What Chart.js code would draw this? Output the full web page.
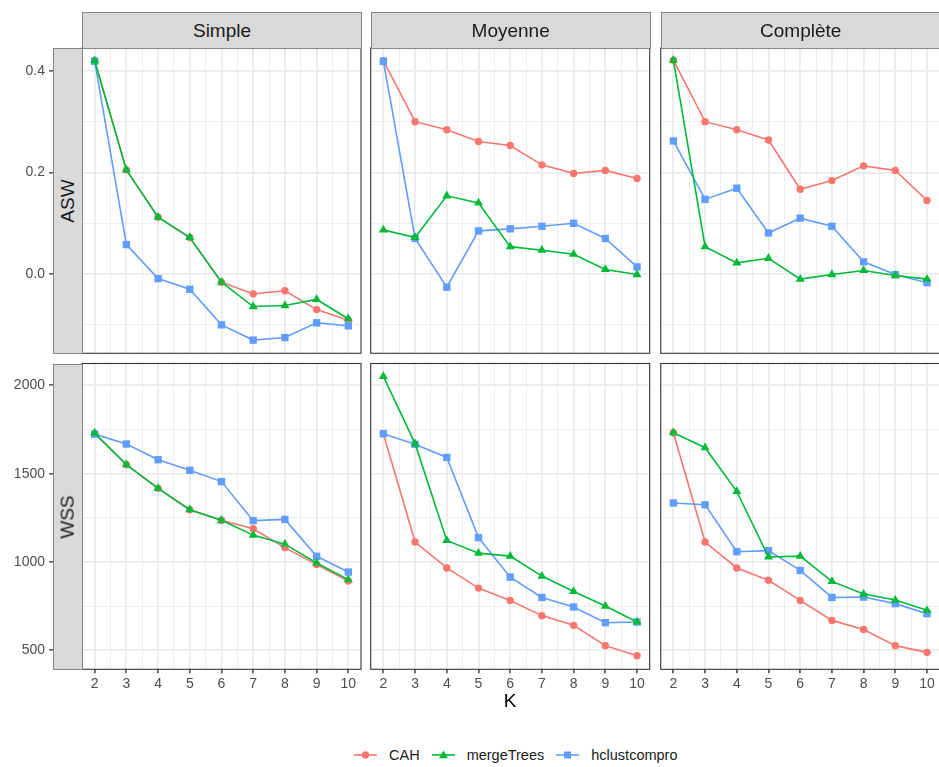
<!DOCTYPE html>
<html>
<head>
<meta charset="utf-8">
<script src="https://cdn.jsdelivr.net/npm/chart.js@4"></script>
<style>
  body { margin: 0; background: #fff; font-family: "Liberation Sans", Arial, sans-serif; }
  #fig { position: relative; width: 939px; height: 767px; overflow: hidden; background: #fff; }
  #fig canvas { position: absolute; }
  .strip { position: absolute; box-sizing: border-box; background: #d9d9d9; border: 1px solid #858585;
           color: #1a1a1a; font-size: 19px; display: flex; align-items: center; justify-content: center; z-index: 2; }
  .strip span { white-space: nowrap; }
  .strip.row span { transform: rotate(-90deg); }
  #legend { position: absolute; left: 354px; top: 746px; height: 18px; display: flex; align-items: center;
            font-size: 14.5px; color: #1a1a1a; }
  #legend .item { display: flex; align-items: center; margin-right: 12px; }
  #legend svg { margin-right: 12px; }
</style>
</head>
<body>
<div id="fig"></div>
<script>
// categories
const kValues = [2, 3, 4, 5, 6, 7, 8, 9, 10];
const methods = ["Simple", "Moyenne", "Complète"];
const measures = ["ASW", "WSS"];
const seriesNames = ["CAH", "mergeTrees", "hclustcompro"];
const seriesColors = ["#F8766D", "#00BA38", "#619CFF"];

// ASW (silhouette) per method
const aswSimpleCAH = [0.42, 0.205, 0.112, 0.072, -0.016, -0.039, -0.033, -0.070, -0.091];
const aswSimpleMerge = [0.42, 0.205, 0.112, 0.072, -0.016, -0.064, -0.062, -0.050, -0.088];
const aswSimpleHclust = [0.419, 0.058, -0.009, -0.030, -0.100, -0.130, -0.125, -0.096, -0.102];

const aswMoyenneCAH = [0.42, 0.300, 0.284, 0.261, 0.253, 0.215, 0.198, 0.204, 0.188];
const aswMoyenneMerge = [0.087, 0.072, 0.154, 0.140, 0.054, 0.047, 0.039, 0.009, -0.001];
const aswMoyenneHclust = [0.419, 0.070, -0.026, 0.085, 0.089, 0.094, 0.100, 0.070, 0.014];

const aswCompleteCAH = [0.421, 0.300, 0.284, 0.264, 0.167, 0.184, 0.213, 0.204, 0.145];
const aswCompleteMerge = [0.421, 0.054, 0.022, 0.031, -0.010, -0.001, 0.007, -0.003, -0.010];
const aswCompleteHclust = [0.262, 0.147, 0.169, 0.081, 0.110, 0.094, 0.024, -0.001, -0.017];

// WSS per method
const wssSimpleCAH = [1726, 1551, 1417, 1296, 1236, 1188, 1081, 985, 892];
const wssSimpleMerge = [1730, 1551, 1417, 1296, 1236, 1152, 1101, 994, 900];
const wssSimpleHclust = [1724, 1668, 1579, 1519, 1455, 1234, 1241, 1032, 943];

const wssMoyenneCAH = [1726, 1113, 966, 852, 782, 696, 641, 526, 469];
const wssMoyenneMerge = [2051, 1670, 1122, 1050, 1033, 920, 833, 750, 660];
const wssMoyenneHclust = [1726, 1666, 1592, 1138, 914, 799, 745, 656, 660];

const wssCompleteCAH = [1732, 1113, 966, 896, 782, 669, 617, 526, 488];
const wssCompleteMerge = [1732, 1647, 1400, 1028, 1033, 890, 818, 784, 726];
const wssCompleteHclust = [1334, 1324, 1058, 1064, 952, 799, 801, 764, 707];

// ticks
const xTicks = [2, 2.5, 3, 3.5, 4, 4.5, 5, 5.5, 6, 6.5, 7, 7.5, 8, 8.5, 9, 9.5, 10];
const aswTicks = [-0.1, 0, 0.1, 0.2, 0.3, 0.4];
const aswLabels = ["", "0.0", "", "0.2", "", "0.4"];
const wssTicks = [500, 750, 1000, 1250, 1500, 1750, 2000];
const wssLabels = ["500", "", "1000", "", "1500", "", "2000"];

const grid = [
  [[aswSimpleCAH, aswSimpleMerge, aswSimpleHclust],
   [aswMoyenneCAH, aswMoyenneMerge, aswMoyenneHclust],
   [aswCompleteCAH, aswCompleteMerge, aswCompleteHclust]],
  [[wssSimpleCAH, wssSimpleMerge, wssSimpleHclust],
   [wssMoyenneCAH, wssMoyenneMerge, wssMoyenneHclust],
   [wssCompleteCAH, wssCompleteMerge, wssCompleteHclust]]
];
const rowTicks = [aswTicks, wssTicks];
const rowLabels = [aswLabels, wssLabels];
const rowLimits = [[-0.156, 0.445], [392, 2124]];

// layout (px)
const panelLefts = [82, 370.7, 660.7];
const panelWidth = 279;
const rowTops = [48, 363.5];
const rowBottoms = [353.3, 669.3];
const stripTop = 12;
const rowStripLeft = 52.7;
const pointStyles = ["circle", "triangle", "rect"];
const pointSizes = [3.7, 5.2, 5.2];
const drawOrder = [2, 0, 1];

const fig = document.getElementById("fig");

const panelBorder = {
  id: "panelBorder",
  afterDraw(chart) {
    const { ctx, chartArea: a } = chart;
    ctx.save();
    ctx.strokeStyle = "#333333";
    ctx.lineWidth = 1.1;
    ctx.strokeRect(a.left, a.top, a.right - a.left, a.bottom - a.top);
    ctx.restore();
  }
};

function noPad(axis) {
  axis.paddingTop = 0;
  axis.paddingBottom = 0;
  axis.paddingLeft = 0;
  axis.paddingRight = 0;
}

function makePanel(row, col) {
  const pl = panelLefts[col], pr = pl + panelWidth;
  const pt = rowTops[row], pb = rowBottoms[row];
  const yAxisW = col === 0 ? pl : 0;
  const xAxisH = row === 1 ? 44 : 0;
  const cLeft = col === 0 ? 0 : Math.floor(pl) - 2;
  const cRight = Math.ceil(pr) + 2;
  const cTop = Math.floor(pt) - 2;
  const cBottom = Math.ceil(pb + xAxisH) + 2;

  const canvas = document.createElement("canvas");
  canvas.width = cRight - cLeft;
  canvas.height = cBottom - cTop;
  canvas.style.left = cLeft + "px";
  canvas.style.top = cTop + "px";
  fig.appendChild(canvas);

  const isMajorX = v => Number.isInteger(v);
  const yTicks = rowTicks[row];
  const yLabels = rowLabels[row];
  const isMajorY = v => yLabels[yTicks.indexOf(v)] !== "";

  const datasets = grid[row][col].map((vals, i) => ({
    label: seriesNames[i],
    data: kValues.map((k, j) => ({ x: k, y: vals[j] })),
    borderColor: seriesColors[i],
    backgroundColor: seriesColors[i],
    borderWidth: 1.6,
    pointStyle: pointStyles[i],
    pointRadius: pointSizes[i],
    pointBorderWidth: 0,
    tension: 0,
    clip: false,
    order: drawOrder[i]
  }));

  new Chart(canvas.getContext("2d"), {
    type: "line",
    data: { datasets },
    options: {
      responsive: false,
      animation: false,
      events: [],
      layout: {
        autoPadding: false,
        padding: {
          left: pl - cLeft - yAxisW,
          right: cRight - pr,
          top: pt - cTop,
          bottom: cBottom - pb - xAxisH
        }
      },
      plugins: { legend: { display: false }, tooltip: { enabled: false } },
      scales: {
        x: {
          type: "linear",
          min: 1.6,
          max: 10.4,
          afterBuildTicks: axis => { axis.ticks = xTicks.map(v => ({ value: v })); },
          afterFit: axis => { axis.height = xAxisH; noPad(axis); },
          border: { display: false },
          grid: {
            color: "#EBEBEB",
            lineWidth: c => (isMajorX(c.tick.value) ? 1.8 : 0.9),
            drawTicks: row === 1,
            tickLength: 4,
            tickWidth: 1.4,
            tickColor: c => (isMajorX(c.tick.value) ? "#333333" : "rgba(0,0,0,0)")
          },
          ticks: {
            display: row === 1,
            autoSkip: false,
            maxRotation: 0,
            padding: 2,
            color: "#4D4D4D",
            font: { family: "Liberation Sans", size: 14 },
            callback: v => (Number.isInteger(v) ? String(v) : "")
          },
          title: {
            display: row === 1 && col === 1,
            text: "K",
            color: "#000000",
            font: { family: "Liberation Sans", size: 19 },
            padding: { top: 0, bottom: 0 }
          }
        },
        y: {
          type: "linear",
          min: rowLimits[row][0],
          max: rowLimits[row][1],
          afterBuildTicks: axis => { axis.ticks = yTicks.map(v => ({ value: v })); },
          afterFit: axis => { axis.width = yAxisW; noPad(axis); },
          border: { display: false },
          grid: {
            color: "#EBEBEB",
            lineWidth: c => (isMajorY(c.tick.value) ? 1.8 : 0.9),
            drawTicks: col === 0,
            tickLength: 33,
            tickWidth: 1.4,
            tickColor: c => (isMajorY(c.tick.value) ? "#333333" : "rgba(0,0,0,0)")
          },
          ticks: {
            display: col === 0,
            autoSkip: false,
            padding: 4,
            color: "#4D4D4D",
            font: { family: "Liberation Sans", size: 14 },
            callback: (v, i) => yLabels[i]
          }
        }
      }
    },
    plugins: [panelBorder]
  });
}

for (let r = 0; r < 2; r++) {
  for (let c = 0; c < 3; c++) makePanel(r, c);
}

// column strips
methods.forEach((m, c) => {
  const d = document.createElement("div");
  d.className = "strip";
  d.style.left = panelLefts[c] + "px";
  d.style.width = panelWidth + 1 + "px";
  d.style.top = stripTop + "px";
  d.style.height = rowTops[0] - stripTop + 1 + "px";
  d.innerHTML = "<span>" + m + "</span>";
  fig.appendChild(d);
});

// row strips
measures.forEach((m, r) => {
  const d = document.createElement("div");
  d.className = "strip row";
  d.style.left = rowStripLeft + "px";
  d.style.width = panelLefts[0] - rowStripLeft + 1 + "px";
  d.style.top = rowTops[r] + "px";
  d.style.height = rowBottoms[r] - rowTops[r] + 1 + "px";
  d.innerHTML = "<span>" + m + "</span>";
  fig.appendChild(d);
});

// legend
const legend = document.createElement("div");
legend.id = "legend";
const markers = [
  c => `<circle cx="11.5" cy="6" r="3.7" fill="${c}"/>`,
  c => `<polygon points="11.5,1.5 16,9.3 7,9.3" fill="${c}"/>`,
  c => `<rect x="8" y="2.5" width="7" height="7" fill="${c}"/>`
];
seriesNames.forEach((name, i) => {
  const col = seriesColors[i];
  const item = document.createElement("div");
  item.className = "item";
  item.innerHTML = `<svg width="23" height="12" viewBox="0 0 23 12"><line x1="0" y1="6" x2="23" y2="6" stroke="${col}" stroke-width="1.6"/>${markers[i](col)}</svg><span>${name}</span>`;
  legend.appendChild(item);
});
fig.appendChild(legend);
</script>
</body>
</html>
